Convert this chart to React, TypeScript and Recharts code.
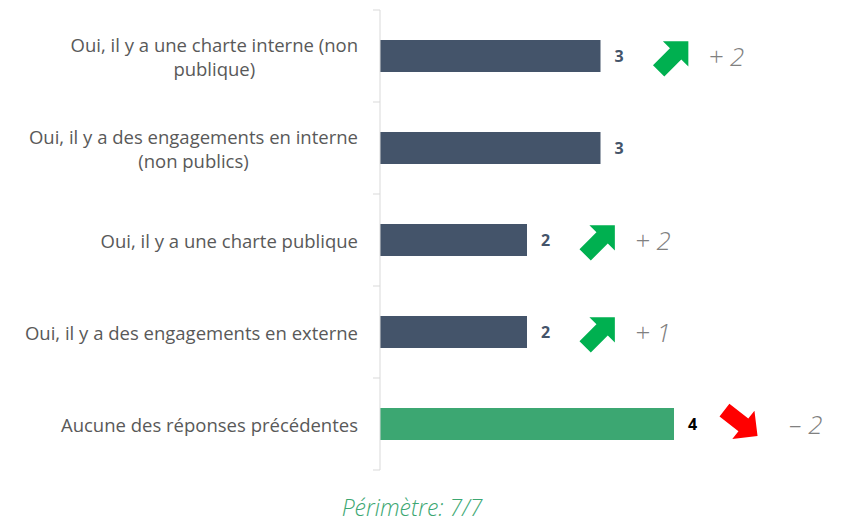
import { BarChart, Bar, XAxis, YAxis, Cell, LabelList } from "recharts";

const categories = [
  "Oui, il y a une charte interne (non\npublique)",
  "Oui, il y a des engagements en interne\n(non publics)",
  "Oui, il y a une charte publique",
  "Oui, il y a des engagements en externe",
  "Aucune des réponses précédentes",
];
const counts = [3, 3, 2, 2, 4];
const deltas: (number | null)[] = [2, null, 2, 1, -2];
const perimetre = "Périmètre: 7/7";

const DARK = "#44546A";
const GREEN = "#3CA772";
const FONT = "'Open Sans', Lato, sans-serif";
const TICK_SIZE = 18.5;

const data = categories.map((name, i) => ({ name, value: counts[i], delta: deltas[i] }));

// the last answer ("Aucune...") is highlighted in green
const isHighlight = (i: number) => i === categories.length - 1;

let ctx: CanvasRenderingContext2D | null = null;
function textWidth(s: string) {
  if (!ctx) ctx = document.createElement("canvas").getContext("2d");
  if (!ctx) return s.length * 8;
  ctx.font = `${TICK_SIZE}px 'Open Sans'`;
  return ctx.measureText(s).width;
}

function CategoryTick(props: any) {
  const { x, y, payload, index, visibleTicksCount } = props;
  const lines = String(payload.value).split("\n");
  const half = payload.offset || 46;
  const lh = 24;
  const startY = y - ((lines.length - 1) * lh) / 2;
  const axisX = x + 22;
  // wrapped lines are centred inside a right-aligned block
  const blockW = Math.max(...lines.map(textWidth));
  const cx = x - blockW / 2;
  return (
    <g>
      <line x1={axisX - 7} x2={axisX} y1={y - half} y2={y - half} stroke="#D9D9D9" />
      {index === visibleTicksCount - 1 && (
        <line x1={axisX - 7} x2={axisX} y1={y + half} y2={y + half} stroke="#D9D9D9" />
      )}
      <text
        x={cx}
        y={startY}
        textAnchor="middle"
        dominantBaseline="central"
        fill="#595959"
        fontSize={TICK_SIZE}
        fontFamily={FONT}
      >
        {lines.map((l, i) => (
          <tspan key={i} x={cx} dy={i === 0 ? 0 : lh}>
            {l}
          </tspan>
        ))}
      </text>
    </g>
  );
}

function BarEndLabel(props: any) {
  const { x, y, width, height, value, index } = props;
  const end = x + width;
  const cy = y + height / 2;
  const delta = deltas[index];
  const up = delta != null && delta > 0;
  const arrowPts = "-21,-8 3,-8 3,-18 21,0 3,18 3,8 -21,8";
  return (
    <g>
      <text
        x={end + 14}
        y={cy}
        dominantBaseline="central"
        fontSize={16}
        fontWeight={700}
        fontFamily={FONT}
        fill={isHighlight(index) ? "#000000" : DARK}
      >
        {value}
      </text>
      {delta != null && (
        <>
          <polygon
            points={arrowPts}
            fill={up ? "#00B050" : "#FF0000"}
            transform={up ? `translate(${end + 73},${cy}) rotate(-45)` : `translate(${end + 67},${cy - 1}) rotate(38)`}
          />
          <text
            x={end + (up ? 108 : 115)}
            y={cy}
            dominantBaseline="central"
            fontSize={26}
            fontStyle="italic"
            fontWeight={300}
            fontFamily={FONT}
            fill="#808080"
          >
            {up ? `+ ${delta}` : `– ${Math.abs(delta)}`}
          </text>
        </>
      )}
    </g>
  );
}

export default function App() {
  return (
    <div style={{ position: "absolute", left: 0, top: 0, width: 847, height: 523, background: "#fff" }}>
      <BarChart
        width={847}
        height={523}
        data={data}
        layout="vertical"
        margin={{ top: 10, right: 26, left: 0, bottom: 53 }}
      >
        <XAxis type="number" domain={[0, 6]} hide />
        <YAxis
          type="category"
          dataKey="name"
          width={380}
          axisLine={{ stroke: "#D9D9D9" }}
          tickLine={false}
          tickSize={6}
          tick={<CategoryTick />}
          tickMargin={16}
          interval={0}
        />
        <Bar dataKey="value" barSize={32} isAnimationActive={false}>
          {data.map((_, i) => (
            <Cell key={i} fill={isHighlight(i) ? GREEN : DARK} />
          ))}
          <LabelList dataKey="value" content={<BarEndLabel />} />
        </Bar>
      </BarChart>
      <div
        style={{
          position: "absolute",
          left: 0,
          width: 824,
          top: 494,
          lineHeight: "26px",
          textAlign: "center",
          color: GREEN,
          fontStyle: "italic",
          fontSize: 23,
          fontFamily: FONT,
          fontWeight: 300,
        }}
      >
        {perimetre}
      </div>
    </div>
  );
}
